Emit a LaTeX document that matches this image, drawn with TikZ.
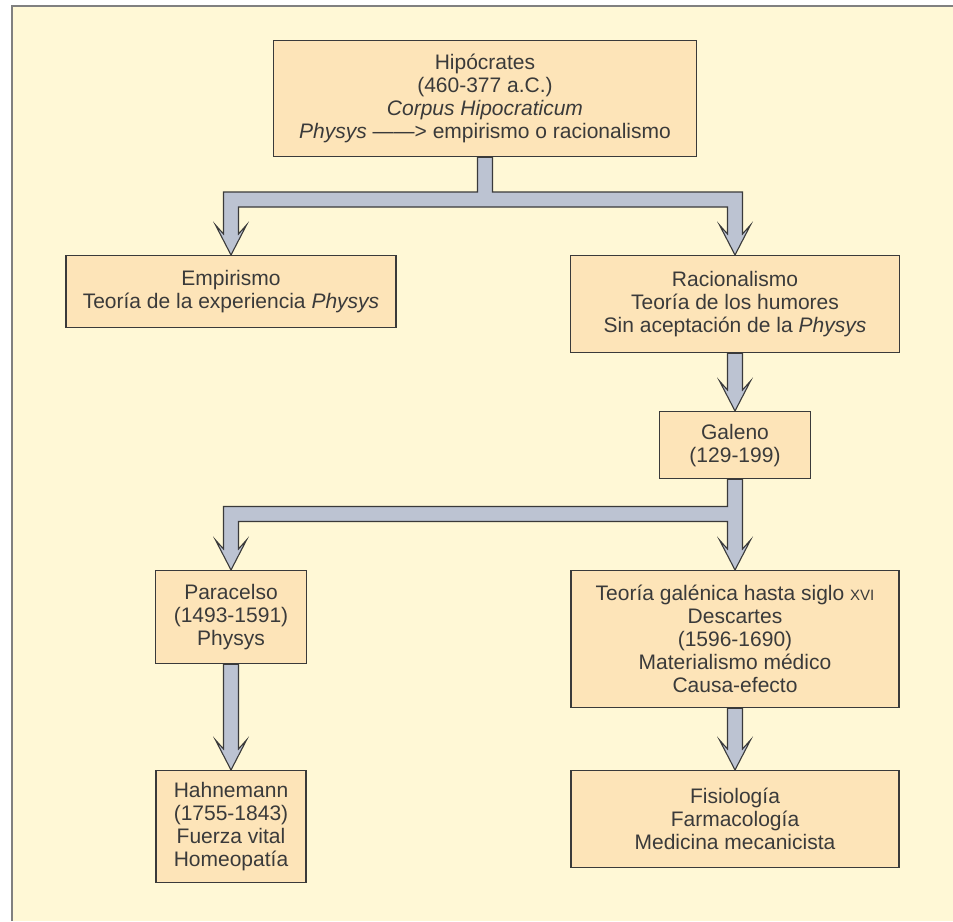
\documentclass[tikz,border=0pt]{standalone}
\usepackage{fontspec}
\setmainfont{Liberation Sans}
\usetikzlibrary{calc,backgrounds}

\definecolor{paper}{HTML}{FFF8D6}
\definecolor{boxfill}{HTML}{FDE4B8}
\definecolor{arrowfill}{HTML}{BCC3D2}
\definecolor{ink}{HTML}{3A3A3A}

\tikzset{
    stage/.style={draw=ink, fill=boxfill, line width=1.2pt, align=center, text=ink,
        font=\fontsize{21}{23}\selectfont, inner sep=0pt, anchor=north},
    flow/.style={draw=ink, fill=arrowfill, line width=1.1pt, line join=miter},
}

% head of a broad arrow ending at #1
\newcommand{\headto}[1]{-- ($(#1)+(-7.5,-21)$) -- ($(#1)+(-15.5,-30)$) -- (#1)
    -- ($(#1)+(15.5,-30)$) -- ($(#1)+(7.5,-21)$)}

\begin{document}
\begin{tikzpicture}[x=1pt, y=-1pt]
    \useasboundingbox (0,0) rectangle (953,921);

    \node[stage, minimum width=423pt, minimum height=116pt] (hip) at (485,40)
        {Hipócrates\\(460-377 a.C.)\\\textit{Corpus Hipocraticum}\\\textit{Physys} ——> empirismo o racionalismo};
    \node[stage, minimum width=330pt, minimum height=72pt] (emp) at (231,255)
        {Empirismo\\Teoría de la experiencia \textit{Physys}};
    \node[stage, minimum width=329pt, minimum height=97pt] (rac) at (735,255)
        {Racionalismo\\Teoría de los humores\\Sin aceptación de la \textit{Physys}};
    \node[stage, minimum width=151pt, minimum height=67pt] (gal) at (735,411)
        {Galeno\\(129-199)};
    \node[stage, minimum width=151pt, minimum height=93pt] (par) at (231,570)
        {Paracelso\\(1493-1591)\\Physys};
    \node[stage, minimum width=328pt, minimum height=137pt] (teo) at (735,570)
        {Teoría galénica hasta siglo {\fontsize{15}{15}\selectfont XVI}\\Descartes\\(1596-1690)\\Materialismo médico\\Causa-efecto};
    \node[stage, minimum width=150pt, minimum height=112pt] (hah) at (231,770)
        {Hahnemann\\(1755-1843)\\Fuerza vital\\Homeopatía};
    \node[stage, minimum width=328pt, minimum height=97pt] (fis) at (735,770)
        {Fisiología\\Farmacología\\Medicina mecanicista};

    \coordinate (fork1) at (485,199.5);
    \coordinate (fork2) at (735,514);

    \begin{pgfonlayer}{background}
    \fill[paper] (12,6) rectangle (953,921);
    \draw[line width=1.5pt, gray] (12,921) -- (12,6) -- (953,6);

    % Hipocrates splits in two
    \draw[flow] ($(hip.south)+(-7.5,0)$) |- ($(emp.north |- fork1)+(-7.5,-7.5)$) \headto{emp.north}
        |- ($(rac.north |- fork1)+(-7.5,7.5)$) \headto{rac.north}
        |- ($(hip.south |- fork1)+(7.5,-7.5)$) -- ($(hip.south)+(7.5,0)$) -- cycle;
    \draw[flow] ($(rac.south)+(-7.5,0)$) \headto{gal.north} -- ($(rac.south)+(7.5,0)$) -- cycle;

    % Galeno splits in two
    \draw[flow] ($(gal.south)+(-7.5,0)$) |- ($(par.north |- fork2)+(-7.5,-7.5)$) \headto{par.north}
        |- ($(teo.north |- fork2)+(-7.5,7.5)$) \headto{teo.north}
        -- ($(gal.south)+(7.5,0)$) -- cycle;
    \draw[flow] ($(par.south)+(-7.5,0)$) \headto{hah.north} -- ($(par.south)+(7.5,0)$) -- cycle;
    \draw[flow] ($(teo.south)+(-7.5,0)$) \headto{fis.north} -- ($(teo.south)+(7.5,0)$) -- cycle;
    \end{pgfonlayer}
\end{tikzpicture}
\end{document}
